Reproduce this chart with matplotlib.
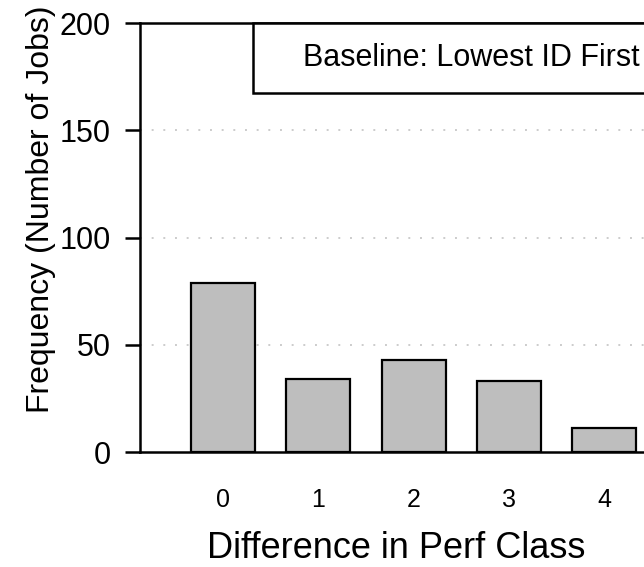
import matplotlib
matplotlib.use("Agg")
import matplotlib.pyplot as plt
from matplotlib.patches import Rectangle

plt.rcParams["font.family"] = ["Liberation Sans", "DejaVu Sans"]

# data
perf_diff = [0, 1, 2, 3, 4]
job_counts = [79, 34, 43, 33, 11]
y_ticks = [0, 50, 100, 150, 200]
legend_label = "Baseline: Lowest ID First"

fig = plt.figure(figsize=(6.44, 5.67), dpi=100)
ax = fig.add_axes([0.2174, 0.2028, 0.795, 0.7566])

ax.bar(perf_diff, job_counts, width=0.67, color="#bebebe",
       edgecolor="black", linewidth=1.6, zorder=3)

ax.set_xlim(-0.87, 4.5)
ax.set_ylim(0, 200)
ax.set_yticks(y_ticks)
ax.set_xticks(perf_diff)
ax.set_xticklabels([str(v) for v in perf_diff])

# dotted grid only at the inner ticks
for yv in y_ticks[1:-1]:
    ax.axhline(yv, color="#cccccc", linestyle=(0, (1, 5)), linewidth=1.4, zorder=1)

for side in ("left", "bottom", "top"):
    ax.spines[side].set_linewidth(1.8)
ax.spines["right"].set_visible(False)

ax.tick_params(axis="y", length=11, width=1.8, pad=10, labelsize=22)
ax.tick_params(axis="x", length=0, pad=26, labelsize=18)

ax.set_xlabel("Difference in Perf Class", fontsize=26)
ax.xaxis.set_label_coords(0.5, -0.224)
ax.xaxis.label.set_va("center")
ax.set_ylabel("Frequency (Number of Jobs)", fontsize=23)
ax.yaxis.set_label_coords(-0.194, 0.566)
ax.yaxis.label.set_va("center")

# legend-style box in the top right
ax.add_patch(Rectangle((0.2207, 0.8368), 0.80, 0.1632, transform=ax.transAxes,
                       facecolor="white", edgecolor="black", linewidth=1.8,
                       clip_on=False, zorder=4))
ax.text(0.648, 0.918, legend_label, transform=ax.transAxes, ha="center",
        va="center", fontsize=22, zorder=5)

fig.savefig("out.png", dpi=100)
